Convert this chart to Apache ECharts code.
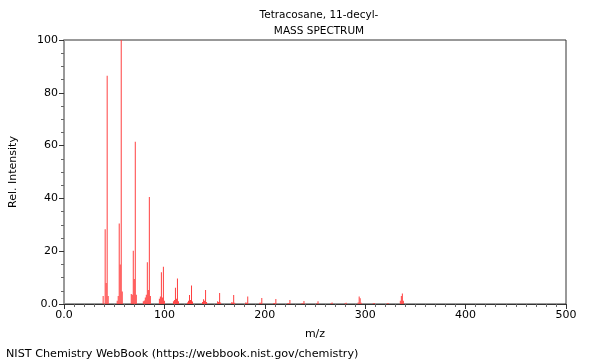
<!DOCTYPE html>
<html><head><meta charset="utf-8">
<script src="https://cdn.jsdelivr.net/npm/echarts@6/dist/echarts.min.js"></script>
<style>html,body{margin:0;padding:0;background:#fff}#c{width:600px;height:360px}</style>
</head><body><div id="c"></div>
<script>
const titleLine1 = "Tetracosane, 11-decyl-";
const titleLine2 = "MASS SPECTRUM";
const xLabel = "m/z";
const yLabel = "Rel. Intensity";
const footer = "NIST Chemistry WebBook (https://webbook.nist.gov/chemistry)";
const mz = [39,41,42,43,44, 53,54,55,56,57,58, 67,68,69,70,71,72, 79,80,81,82,83,84,85,86,
  95,96,97,98,99,100, 109,110,111,112,113,114, 123,124,125,126,127,128, 138,139,140,141,142,
  153,154,155,156, 167,168,169,170, 181,182,183, 195,196,197, 209,210,211, 223,224,225,
  237,238,239, 252,253, 266,267, 280,281, 293,294,295,296, 308,309, 322,323, 335,336,337,338];
const intensity = [3,28.3,8,86.5,3, 1.2,3,30.5,15,100,4.7, 3.8,3.5,20.2,9.5,61.5,3.5, 1,1.3,2.5,3.5,15.8,5.3,40.5,3,
  2,2.8,12,2.5,14.1,1.2, 1,1.5,6.2,2,9.7,1, 0.6,1.2,3.4,1.5,7,0.9, 0.8,1.8,1.2,5.3,0.8,
  1,0.8,4.2,0.6, 0.7,0.6,3.4,0.5, 0.6,0.5,2.8, 0.5,0.5,2.3, 0.4,0.4,1.9, 0.4,0.3,1.5,
  0.3,0.3,1.1, 0.3,1.0, 0.3,0.6, 0.3,0.5, 0.6,2.8,2.2,0.5, 0.3,0.4, 0.3,0.3, 1.2,3,4,1.2];
const xTicks = [0,100,200,300,400,500];
const yTicks = [0,20,40,60,80,100];

const chart = echarts.init(document.getElementById('c'), null, {renderer:'canvas'});
const font = 'DejaVu Sans';
chart.setOption({
  animation:false,
  textStyle:{fontFamily:font},
  title:[
    {text:titleLine1, left:314, top:5, textAlign:'center', textStyle:{fontSize:10.5, fontWeight:'normal', color:'#000', fontFamily:font}},
    {text:titleLine2, left:314, top:21, textAlign:'center', textStyle:{fontSize:10.5, fontWeight:'normal', color:'#000', fontFamily:font}},
    {text:footer, left:1, top:344, textStyle:{fontSize:11.2, fontWeight:'normal', color:'#000', fontFamily:font}}
  ],
  grid:{left:62, right:34, top:40, bottom:56, show:true, borderColor:'#333', borderWidth:1},
  xAxis:{type:'value', min:xTicks[0], max:xTicks[xTicks.length-1], interval:100,
    name:xLabel, nameLocation:'middle', nameGap:25, nameTextStyle:{fontSize:11, color:'#000'},
    axisLine:{show:true, lineStyle:{color:'#333'}},
    axisTick:{show:true, length:5, lineStyle:{color:'#333'}},
    minorTick:{show:true, splitNumber:10, length:3, lineStyle:{color:'#666'}},
    axisLabel:{fontSize:11, color:'#000', margin:6, formatter:v=> v===0?'0.0':String(v)},
    splitLine:{show:false}},
  yAxis:{type:'value', min:yTicks[0], max:yTicks[yTicks.length-1], interval:20,
    name:yLabel, nameLocation:'middle', nameGap:45, nameTextStyle:{fontSize:11, color:'#000'},
    axisLine:{show:true, lineStyle:{color:'#999', width:2}},
    axisTick:{show:true, length:5, lineStyle:{color:'#333'}},
    minorTick:{show:true, splitNumber:4, length:3, lineStyle:{color:'#666'}},
    axisLabel:{fontSize:11, color:'#000', margin:6, formatter:v=> v===0?'0.0':String(v)},
    splitLine:{show:false}},
  series:[{type:'bar', barWidth:1, barGap:'-100%', itemStyle:{color:'#ff4040'},
    data: mz.map((m,i)=>[m,intensity[i]])}]
});
</script></body></html>
